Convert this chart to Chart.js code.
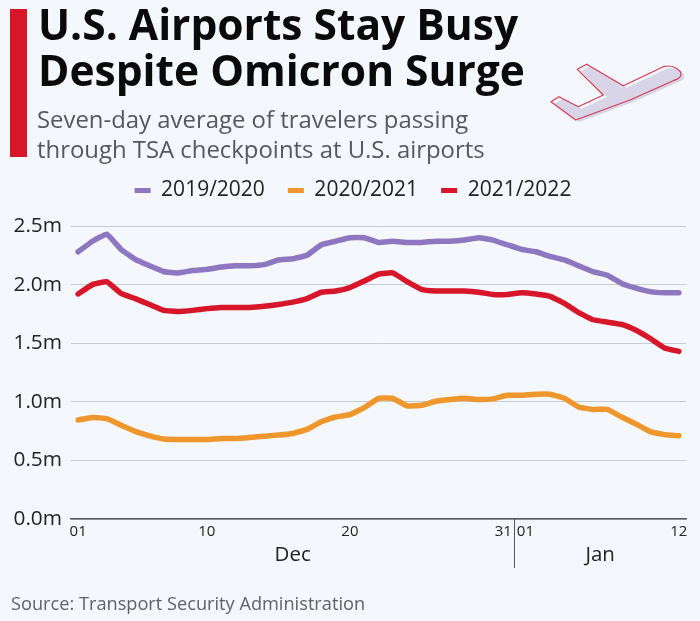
<!DOCTYPE html>
<html><head><meta charset="utf-8">
<style>
html,body{margin:0;padding:0;background:#f4f7fb;width:700px;height:621px;overflow:hidden}
body{position:relative;font-family:"Open Sans",sans-serif}
#bar{position:absolute;left:10px;top:9px;width:17px;height:148px;background:#d7162a}
h1{position:absolute;left:38px;top:1px;margin:0;font-size:42.5px;line-height:45.5px;font-weight:700;color:#0a0a0a;white-space:nowrap}
h2{position:absolute;left:37px;top:104px;margin:0;font-size:23.9px;line-height:29.5px;font-weight:400;color:#55585c;white-space:nowrap}
#src{position:absolute;left:11px;top:592px;font-size:18.2px;line-height:22px;color:#5f6266;white-space:nowrap}
#plane{position:absolute;left:540px;top:50px}
#wrap{position:absolute;left:0;top:0;width:700px;height:621px}
</style></head><body>
<div id="wrap"><canvas id="c" width="700" height="621"></canvas></div>
<div id="bar"></div>
<h1>U.S. Airports Stay Busy<br>Despite Omicron Surge</h1>
<h2>Seven-day average of travelers passing<br>through TSA checkpoints at U.S. airports</h2>
<div id="src">Source: Transport Security Administration</div>
<svg id="plane" width="160" height="80" viewBox="0 0 480 240">
<path d="M122 64L150 49L260 113L380 56Q410 48 430 72Q440 90 410 98L280 156L117 216L43 161L67 146L125 176L200 141Z" fill="#d9d5e8"/>
<path d="M112 58L140 43L250 107L370 50Q400 42 422 66Q428 84 400 92L270 150L107 210L33 155L57 140L115 170L190 135Z" fill="none" stroke="#d23a50" stroke-width="3.5" stroke-linejoin="round"/>
</svg>
<script src="https://cdn.jsdelivr.net/npm/chart.js@4"></script>
<script>
const days=['01','02','03','04','05','06','07','08','09','10','11','12','13','14','15','16','17','18','19','20','21','22','23','24','25','26','27','28','29','30','31','01','02','03','04','05','06','07','08','09','10','11','12'];
const shownTicks={0:'01',9:'10',19:'20',30:'31  ',31:'  01',42:'12'};
const yTicks=[0,0.5,1,1.5,2,2.5];
const s2019=[2.28,2.37,2.43,2.30,2.215,2.16,2.11,2.10,2.12,2.13,2.15,2.16,2.16,2.17,2.21,2.22,2.25,2.34,2.37,2.40,2.40,2.36,2.37,2.36,2.36,2.37,2.37,2.38,2.40,2.38,2.34,2.30,2.28,2.24,2.21,2.16,2.11,2.08,2.01,1.97,1.94,1.93,1.93];
const s2020=[0.845,0.867,0.856,0.80,0.748,0.71,0.683,0.678,0.678,0.678,0.687,0.687,0.696,0.707,0.716,0.73,0.765,0.83,0.87,0.89,0.95,1.03,1.03,0.965,0.97,1.005,1.02,1.03,1.02,1.025,1.055,1.055,1.065,1.065,1.03,0.955,0.935,0.935,0.87,0.81,0.745,0.72,0.71];
const s2021=[1.92,2.00,2.025,1.925,1.88,1.83,1.78,1.77,1.78,1.795,1.805,1.805,1.805,1.815,1.83,1.85,1.88,1.935,1.945,1.975,2.03,2.09,2.10,2.025,1.96,1.945,1.945,1.945,1.935,1.915,1.915,1.93,1.92,1.90,1.84,1.76,1.70,1.68,1.66,1.61,1.54,1.46,1.43];
const seriesNames=['2019/2020','2020/2021','2021/2022'];
const seriesColors=['#8e77c1','#ef962d','#d7162a'];
const months=[{name:'Dec',at:15},{name:'Jan',at:36.5}];
const dividerAt=30.5;

const monthPlugin={id:'monthTier',
 afterInit(chart){const f=chart.legend.fit;chart.legend.fit=function(){f.call(this);this.height=69;};},
 afterLayout(chart){chart.legend.left+=10;chart.legend.right+=10;},
 afterDraw(chart){
  const x=chart.scales.x,c=chart.ctx;
  const base=chart.chartArea.bottom;
  const px=i=>{const a=Math.floor(i),b=Math.ceil(i);return (x.getPixelForValue(a)+x.getPixelForValue(b))/2;};
  c.save();
  c.strokeStyle='#55585c';c.lineWidth=1;
  const dx=Math.round(px(dividerAt))+0.5;
  c.beginPath();c.moveTo(dx,base);c.lineTo(dx,base+49);c.stroke();
  c.fillStyle='#222';c.font='20.5px "Open Sans"';c.textAlign='center';c.textBaseline='alphabetic';
  months.forEach(m=>c.fillText(m.name,px(m.at),base+42));
  c.restore();
}};

new Chart(document.getElementById('c'),{
  type:'line',
  data:{labels:days,datasets:[s2019,s2020,s2021].map((d,i)=>({label:seriesNames[i],data:d,borderColor:seriesColors[i],backgroundColor:seriesColors[i],borderWidth:5.5,pointRadius:0,tension:0.1,borderCapStyle:'round',borderJoinStyle:'round'}))},
  options:{
    responsive:false,animation:false,devicePixelRatio:1,
    layout:{padding:{top:157,right:14,bottom:0,left:0}},
    plugins:{tooltip:{enabled:false},
      legend:{position:'top',align:'center',labels:{boxWidth:16,boxHeight:5,padding:23,color:'#222',font:{family:'"Open Sans"',size:21},
        generateLabels(ch){return Chart.defaults.plugins.legend.labels.generateLabels(ch).map(l=>({...l,lineWidth:0,strokeStyle:'transparent'}));}}}},
    scales:{
      x:{type:'category',offset:true,
        grid:{display:false},
        border:{display:true,color:'#55585c',width:1.5},
        afterFit(s){s.height=102;},
        ticks:{autoSkip:false,maxRotation:0,minRotation:0,padding:-4,color:'#222',font:{family:'"Open Sans"',size:15},
          callback(v,i){return shownTicks[i]||'';}}},
      y:{min:0,max:2.5,
        afterFit(s){s.width=71;},
        afterBuildTicks(s){s.ticks=yTicks.map(v=>({value:v}));},
        grid:{color:'#c5cbd2',lineWidth:1,drawTicks:false},
        border:{display:false},
        ticks:{padding:9,color:'#222',font:{family:'"Open Sans"',size:20.8},callback(v){return v.toFixed(1)+'m';}}}
    }
  },
  plugins:[monthPlugin]
});
</script>
</body></html>
